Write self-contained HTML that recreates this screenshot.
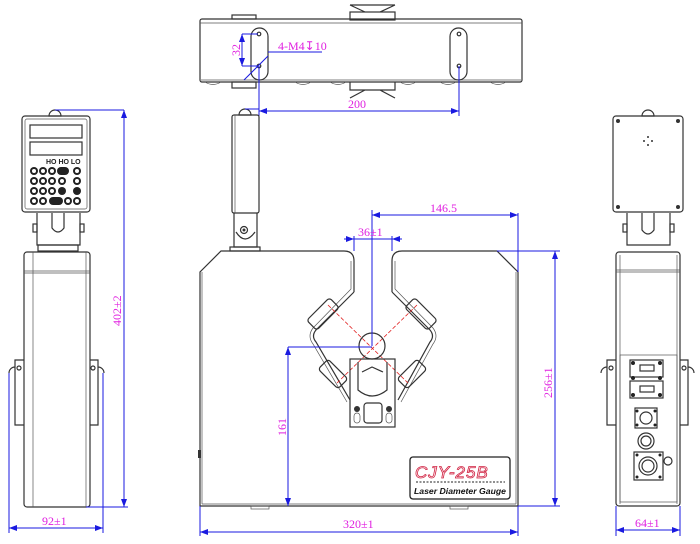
<!DOCTYPE html>
<html><head><meta charset="utf-8"><style>
html,body{margin:0;padding:0;background:#fff}
svg{display:block}
.l{fill:none;stroke:#333;stroke-width:1.2}
.t{fill:none;stroke:#555;stroke-width:0.7}
.d{stroke:#1a1ae0;stroke-width:1;fill:none}
.m{fill:#e020e0;font-family:"Liberation Serif",serif;font-size:12px}
.r{stroke:#e02020;stroke-width:0.8;stroke-dasharray:4 2;fill:none}
</style></head><body>
<svg width="700" height="544" viewBox="0 0 700 544" xmlns="http://www.w3.org/2000/svg">
<defs>
<marker id="a" markerWidth="8" markerHeight="6" refX="8" refY="3" orient="auto-start-reverse" markerUnits="userSpaceOnUse"><path d="M0,0 L8,3 L0,6z" fill="#1a1ae0"/></marker>
</defs>

<!-- TOP VIEW -->
<path class="l" d="M350,5 L395,5 M350,5 L365,12 M395,5 L380,12"/>
<rect class="l" x="350" y="12" width="45" height="8"/>
<rect class="l" x="232" y="15" width="24" height="4"/>
<rect class="l" x="200" y="19" width="322" height="63" rx="2"/>
<line class="t" x1="200" y1="23" x2="522" y2="23"/>
<line class="t" x1="201" y1="80" x2="521" y2="80"/>
<rect class="l" x="232" y="82" width="24" height="6"/>
<path class="l" d="M350,82 L350,90 L395,90 L395,82 M350,98 L365,90 M395,98 L380,90"/>
<path class="t" d="M205,82 q8,5 16,0 M295,82 q8,5 16,0 M330,82 q8,5 16,0 M400,82 q8,5 16,0 M440,82 q8,5 16,0 M490,82 q8,5 16,0"/>
<rect class="l" x="251" y="28" width="17" height="52" rx="8.5"/>
<rect class="l" x="450" y="28" width="17" height="52" rx="8.5"/>
<circle class="l" cx="259" cy="34" r="1.8"/><circle class="l" cx="259" cy="66" r="1.8"/>
<circle class="l" cx="459" cy="34" r="1.8"/><circle class="l" cx="459" cy="66" r="1.8"/>
<path class="d" d="M242,34 L258,34 M242,66 L258,66"/>
<line class="d" x1="242" y1="34" x2="242" y2="66" marker-start="url(#a)" marker-end="url(#a)"/>
<text class="m" transform="translate(240,56) rotate(-90)">32</text>
<line class="d" x1="244" y1="80" x2="268" y2="56"/>
<line class="d" x1="268" y1="52" x2="322" y2="52"/>
<text class="m" x="278" y="50" font-size="11">4-M4↧10</text>
<path class="d" d="M259,66 L259,116 M459,66 L459,116"/>
<line class="d" x1="259" y1="111" x2="459" y2="111" marker-start="url(#a)" marker-end="url(#a)"/>
<text class="m" x="348" y="108">200</text>

<!-- LEFT VIEW -->
<path class="l" d="M49,116 a6,6 0 0 1 12,0 z"/>
<path class="d" d="M55,110 L124,110"/>
<rect class="l" x="22" y="116" width="68" height="96" rx="3"/>
<rect class="t" x="25" y="119" width="62" height="90" rx="2"/>
<rect class="l" x="30" y="125" width="52" height="13"/>
<rect class="l" x="30" y="142" width="52" height="13"/>
<text x="46" y="164" font-family="Liberation Sans" font-size="7" font-weight="bold" fill="#222">HO HO LO</text>
<g fill="#222">
<circle cx="34" cy="171" r="4"/><circle cx="43" cy="171" r="4"/><circle cx="52" cy="171" r="4"/><rect x="57" y="167" width="12" height="8" rx="4"/><circle cx="77" cy="171" r="4"/>
<circle cx="34" cy="181" r="4"/><circle cx="43" cy="181" r="4"/><circle cx="52" cy="181" r="4"/><circle cx="62" cy="181" r="4"/><circle cx="77" cy="181" r="4"/>
<circle cx="34" cy="191" r="4"/><circle cx="43" cy="191" r="4"/><circle cx="52" cy="191" r="4"/><circle cx="62" cy="191" r="4"/><circle cx="77" cy="191" r="4"/>
<circle cx="34" cy="201" r="4"/><circle cx="43" cy="201" r="4"/><rect x="49" y="197" width="14" height="8" rx="4"/><circle cx="68" cy="201" r="4"/><circle cx="77" cy="201" r="4"/>
</g>
<g fill="#fff"><circle cx="34" cy="171" r="2"/><circle cx="43" cy="171" r="2"/><circle cx="52" cy="171" r="2"/><circle cx="77" cy="171" r="2"/><circle cx="34" cy="181" r="2"/><circle cx="43" cy="181" r="2"/><circle cx="52" cy="181" r="2"/><circle cx="62" cy="181" r="2"/><circle cx="77" cy="181" r="2"/><circle cx="34" cy="191" r="2"/><circle cx="43" cy="191" r="2"/><circle cx="52" cy="191" r="2"/><circle cx="34" cy="201" r="2"/><circle cx="43" cy="201" r="2"/><circle cx="68" cy="201" r="2"/><circle cx="77" cy="201" r="2"/></g>
<path class="l" d="M37,213 L37,245 L80,245 L80,213 M52,213 L52,228 q6,8 12,0 L64,213"/>
<rect class="l" x="33" y="224" width="4" height="8"/><rect class="l" x="80" y="224" width="4" height="8"/>
<rect class="l" x="38" y="245" width="40" height="6"/>
<rect class="l" x="24" y="252" width="66" height="255" rx="3"/>
<line class="t" x1="33" y1="252" x2="33" y2="507"/><line class="t" x1="86" y1="252" x2="86" y2="507"/>
<line class="t" x1="24" y1="271" x2="90" y2="271"/><line class="t" x1="24" y1="273" x2="90" y2="273"/>
<path class="l" d="M24,360 L15,360 L15,425 L24,425 M15,367 a6,6 0 0 0 -6,6"/>
<path class="l" d="M90,360 L98,360 L98,425 L90,425 M98,367 a6,6 0 0 1 6,6"/>
<circle class="l" cx="19" cy="368" r="2"/><circle class="l" cx="93" cy="368" r="2"/>
<path class="d" d="M86,507 L128,507 M9,373 L9,533 M103,373 L103,533"/>
<line class="d" x1="124" y1="110" x2="124" y2="507" marker-start="url(#a)" marker-end="url(#a)"/>
<text class="m" transform="translate(121,326) rotate(-90)">402±2</text>
<line class="d" x1="9" y1="528" x2="103" y2="528" marker-start="url(#a)" marker-end="url(#a)"/>
<text class="m" x="42" y="525">92±1</text>

<!-- CENTER VIEW -->
<path class="l" d="M239,115 a6,6 0 0 1 12,0 z"/>
<path class="d" d="M245,109 L259,109"/>
<rect class="l" x="232" y="115" width="27" height="98" rx="2"/>
<line class="t" x1="235" y1="115" x2="235" y2="213"/>
<path class="l" d="M234,213 L234,247 L257,247 L257,213 M236,232 q9,14 19,0"/>
<circle class="l" cx="244" cy="230" r="3.5"/><circle cx="244" cy="230" r="1.5" fill="#333"/>
<rect class="l" x="230" y="247" width="30" height="4"/>
<path class="l" d="M354,292 L354,261 Q354,251 344,251 L221,251 L200,272 L200,506 L518,506 L518,272 L497,251 L402,251 Q392,251 392,261 L392,292"/>
<path class="l" d="M354,292 L316,330 Q311,336 316,342 L350,400"/>
<path class="l" d="M392,292 L430,330 Q435,336 430,342 L398,400"/>
<path class="t" d="M351,261 L351,289 L313,328 Q307,336 313,344 L347,402 M395,261 L395,289 L433,328 Q439,336 433,344 L401,402"/>
<path class="t" d="M202,272 L202,504 M516,272 L516,504 M202,504 L516,504"/>
<g class="l">
<rect x="316" y="298" width="14" height="32" rx="3" transform="rotate(45 323 314)"/>
<rect x="414" y="298" width="14" height="32" rx="3" transform="rotate(-45 421 314)"/>
<rect x="326" y="360" width="14" height="28" rx="3" transform="rotate(-45 333 374)"/>
<rect x="405" y="360" width="14" height="28" rx="3" transform="rotate(45 412 374)"/>
</g>
<line class="r" x1="328" y1="305" x2="408" y2="383"/>
<line class="r" x1="417" y1="305" x2="337" y2="383"/>
<circle class="l" cx="372" cy="346" r="13"/>
<rect class="l" x="350" y="359" width="45" height="68"/>
<path class="l" d="M358,362 L358,390 Q372,402 387,390 L387,362 M362,372 L372,367 L383,372"/>
<rect class="l" x="364" y="403" width="18" height="20" rx="3"/>
<circle cx="357" cy="409" r="3" fill="#333"/><circle cx="389" cy="409" r="3" fill="#333"/>
<rect class="t" x="354" y="413" width="6" height="10" rx="3"/><rect class="t" x="386" y="413" width="6" height="10" rx="3"/>
<rect x="198" y="450" width="3" height="8" fill="#333"/>
<rect class="t" x="251" y="506" width="18" height="3"/><rect class="t" x="450" y="506" width="18" height="3"/>
<rect x="410" y="457" width="100" height="42" rx="3" fill="none" stroke="#222" stroke-width="1.3"/>
<text x="415" y="478" font-family="Liberation Sans" font-style="italic" font-size="17" fill="#fff" stroke="#d02040" stroke-width="0.8" letter-spacing="1">CJY-25B</text>
<line x1="416" y1="482" x2="505" y2="482" stroke="#222" stroke-dasharray="2 1.5"/>
<text x="414" y="494" font-family="Liberation Sans" font-style="italic" font-weight="bold" font-size="8.5" fill="#111" textLength="92" lengthAdjust="spacingAndGlyphs">Laser Diameter Gauge</text>
<!-- dims -->
<path class="d" d="M372,210 L372,346 M518,213 L518,272 M497,251 L560,251 M518,506 L560,506 M354,236 L354,251 M392,236 L392,251 M288,347 L372,347 M200,506 L200,536 M518,506 L518,536"/>
<line class="d" x1="372" y1="215" x2="518" y2="215" marker-start="url(#a)" marker-end="url(#a)"/>
<text class="m" x="430" y="212">146.5</text>
<line class="d" x1="344" y1="239" x2="354" y2="239" marker-end="url(#a)"/>
<line class="d" x1="402" y1="239" x2="392" y2="239" marker-end="url(#a)"/>
<line class="d" x1="354" y1="239" x2="392" y2="239"/>
<text class="m" x="358" y="236">36±1</text>
<line class="d" x1="288" y1="347" x2="288" y2="506" marker-start="url(#a)" marker-end="url(#a)"/>
<text class="m" transform="translate(286,436) rotate(-90)">161</text>
<line class="d" x1="555" y1="251" x2="555" y2="506" marker-start="url(#a)" marker-end="url(#a)"/>
<text class="m" transform="translate(552,398) rotate(-90)">256±1</text>
<line class="d" x1="200" y1="532" x2="518" y2="532" marker-start="url(#a)" marker-end="url(#a)"/>
<text class="m" x="343" y="528">320±1</text>

<!-- RIGHT VIEW -->
<path class="l" d="M642,116 a6,6 0 0 1 12,0 z"/>
<rect class="l" x="613" y="116" width="70" height="96" rx="3"/>
<g fill="#333"><circle cx="618" cy="121" r="2"/><circle cx="678" cy="121" r="2"/><circle cx="618" cy="207" r="2"/><circle cx="678" cy="207" r="2"/>
<circle cx="648" cy="137" r="1"/><circle cx="648" cy="145" r="1"/><circle cx="644" cy="141" r="1"/><circle cx="652" cy="141" r="1"/></g>
<path class="l" d="M627,213 L627,245 L670,245 L670,213 M642,213 L642,230 q6,8 12,0 L654,213"/>
<rect class="l" x="623" y="224" width="4" height="8"/><rect class="l" x="670" y="224" width="4" height="8"/>
<rect class="l" x="616" y="252" width="64" height="254" rx="3"/>
<line class="t" x1="616" y1="270" x2="680" y2="270"/><line class="t" x1="616" y1="272" x2="680" y2="272"/>
<line class="t" x1="620" y1="255" x2="620" y2="504"/><line class="t" x1="677" y1="255" x2="677" y2="504"/>
<rect class="t" x="620" y="355" width="57" height="147"/>
<path class="l" d="M616,360 L607,360 L607,425 L616,425 M607,367 a6,6 0 0 0 -6,6"/>
<path class="l" d="M680,360 L688,360 L688,425 L680,425 M688,367 a6,6 0 0 1 6,6"/>
<circle class="l" cx="611" cy="368" r="2"/><circle class="l" cx="684" cy="368" r="2"/>
<rect class="l" x="630" y="360" width="33" height="17"/><rect class="l" x="640" y="365" width="14" height="6"/>
<rect class="l" x="630" y="381" width="33" height="17"/><rect class="l" x="640" y="386" width="14" height="6"/>
<g fill="#222"><circle cx="633" cy="363" r="2"/><circle cx="660" cy="363" r="2"/><circle cx="633" cy="395" r="2"/><circle cx="660" cy="395" r="2"/><circle cx="633" cy="378" r="2"/><circle cx="660" cy="378" r="2"/>
<circle cx="637" cy="411" r="1.5"/><circle cx="655" cy="411" r="1.5"/><circle cx="637" cy="425" r="1.5"/><circle cx="655" cy="425" r="1.5"/>
<circle cx="637" cy="455" r="1.5"/><circle cx="660" cy="455" r="1.5"/><circle cx="637" cy="477" r="1.5"/><circle cx="660" cy="477" r="1.5"/></g>
<rect class="l" x="635" y="408" width="22" height="20"/><circle class="l" cx="646" cy="418" r="6"/>
<circle class="l" cx="646" cy="441" r="8"/><circle class="l" cx="646" cy="441" r="5"/>
<rect class="l" x="634" y="452" width="29" height="28"/><circle class="l" cx="648" cy="466" r="9"/><circle class="l" cx="648" cy="466" r="6"/>
<circle class="l" cx="668" cy="461" r="4"/>
<path class="d" d="M616,506 L616,536 M680,506 L680,536"/>
<line class="d" x1="616" y1="530" x2="680" y2="530" marker-start="url(#a)" marker-end="url(#a)"/>
<text class="m" x="635" y="527">64±1</text>
</svg>
</body></html>
